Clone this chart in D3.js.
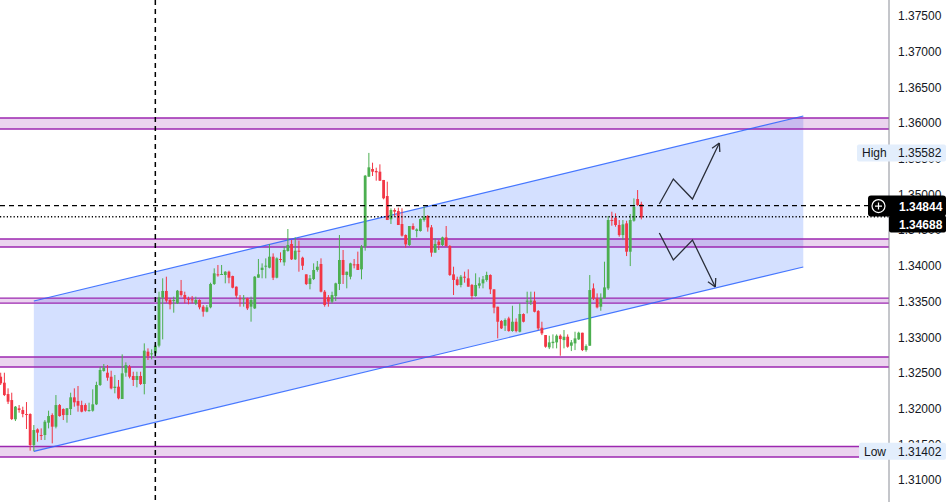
<!DOCTYPE html>
<html>
<head>
<meta charset="utf-8">
<script src="https://cdn.jsdelivr.net/npm/d3@7"></script>
<style>
    body { margin: 0; background: #fff; overflow: hidden; }
    svg { display: block; }
</style>
</head>
<body>
<div id="container"><svg></svg></div>
<script>
// candles, oldest first
let opens = [1.32447,1.32363,1.32204,1.32120,1.31850,1.32004,1.31980,1.31924,1.31924,1.31490,
    1.31709,1.31630,1.31630,1.31803,1.31910,1.31747,1.32050,1.31994,1.31910,1.31994,
    1.32158,1.32106,1.32050,1.32050,1.31971,1.31971,1.32060,1.32331,1.32527,1.32503,
    1.32447,1.32289,1.32307,1.32135,1.32503,1.32587,1.32457,1.32401,1.32457,1.32345,
    1.32798,1.32765,1.32774,1.32882,1.33554,1.33648,1.33522,1.33512,1.33475,1.33648,
    1.33592,1.33536,1.33531,1.33475,1.33522,1.33428,1.33358,1.33419,1.33746,1.33881,
    1.33876,1.33872,1.33918,1.33857,1.33708,1.33545,1.33535,1.33545,1.33428,1.33404,
    1.33834,1.33942,1.33988,1.33974,1.34128,1.33834,1.34096,1.34049,1.34208,1.34306,
    1.34091,1.34212,1.34114,1.33881,1.33745,1.33815,1.33942,1.34026,1.33638,1.33559,
    1.33498,1.33577,1.33746,1.34082,1.33872,1.33848,1.34021,1.34026,1.33951,1.34269,
    1.35249,1.35357,1.35329,1.35319,1.35203,1.34978,1.34652,1.34782,1.34768,1.34586,
    1.34432,1.34292,1.34558,1.34488,1.34488,1.34642,1.34698,1.34539,1.34185,1.34339,
    1.34292,1.34399,1.34278,1.33881,1.33811,1.33732,1.33848,1.33825,1.33732,1.33577,
    1.33722,1.33755,1.33802,1.33872,1.33671,1.33427,1.33227,1.33161,1.33264,1.33087,
    1.33217,1.33077,1.33325,1.33497,1.33497,1.33512,1.33367,1.33133,1.33031,1.32858,
    1.32918,1.32928,1.33021,1.32960,1.33007,1.32881,1.32914,1.32970,1.33063,1.32820,
    1.32881,1.33684,1.33544,1.33427,1.33544,1.33684,1.34642,1.34674,1.34572,1.34431,
    1.34595,1.34198,1.34632,1.34936,1.34866];
let highs = [1.32503,1.32503,1.32284,1.32223,1.32036,1.32050,1.32027,1.32092,1.31934,1.31770,
    1.31723,1.31723,1.31840,1.31971,1.31934,1.32190,1.32064,1.32004,1.32008,1.32223,
    1.32284,1.32317,1.32111,1.32074,1.32083,1.32270,1.32377,1.32587,1.32625,1.32610,
    1.32531,1.32471,1.32401,1.32760,1.32648,1.32611,1.32517,1.32517,1.32517,1.32914,
    1.32844,1.32830,1.32900,1.33638,1.33825,1.33848,1.33545,1.33568,1.33662,1.33802,
    1.33638,1.33568,1.33578,1.33568,1.33531,1.33451,1.33451,1.33764,1.33965,1.34012,
    1.34012,1.33925,1.33932,1.33862,1.33712,1.33591,1.33591,1.33554,1.33568,1.33857,
    1.34096,1.34035,1.34105,1.34306,1.34175,1.34119,1.34189,1.34268,1.34516,1.34362,
    1.34399,1.34353,1.34128,1.33881,1.33872,1.34035,1.34068,1.34105,1.33661,1.33591,
    1.33638,1.33764,1.34432,1.34222,1.33918,1.34044,1.34096,1.34199,1.34292,1.35273,
    1.35582,1.35445,1.35375,1.35422,1.35203,1.35179,1.34806,1.34806,1.34815,1.34806,
    1.34441,1.34558,1.34595,1.34525,1.34666,1.34829,1.34712,1.34572,1.34385,1.34362,
    1.34409,1.34558,1.34292,1.33988,1.33848,1.33872,1.33918,1.33951,1.33746,1.33895,
    1.33839,1.33858,1.33918,1.33881,1.33671,1.33428,1.33241,1.33264,1.33287,1.33441,
    1.33264,1.33474,1.33334,1.33638,1.33638,1.33638,1.33381,1.33217,1.33031,1.33021,
    1.33040,1.33040,1.33040,1.33101,1.33040,1.32961,1.33077,1.33077,1.33063,1.32900,
    1.33871,1.33754,1.33614,1.33614,1.34058,1.34698,1.34758,1.34735,1.34642,1.34642,
    1.34632,1.34726,1.34945,1.35062,1.34898];
let lows = [1.32331,1.32176,1.32064,1.31840,1.31826,1.31943,1.31878,1.31714,1.31411,1.31402,
    1.31537,1.31560,1.31560,1.31723,1.31513,1.31723,1.31887,1.31840,1.31803,1.31910,
    1.32027,1.31957,1.31948,1.31957,1.31957,1.31957,1.32050,1.32317,1.32517,1.32391,
    1.32270,1.32214,1.32130,1.32135,1.32447,1.32424,1.32317,1.32298,1.32331,1.32200,
    1.32681,1.32690,1.32718,1.32858,1.32970,1.33484,1.33391,1.33344,1.33465,1.33568,
    1.33475,1.33461,1.33475,1.33451,1.33391,1.33288,1.33349,1.33405,1.33732,1.33848,
    1.33872,1.33755,1.33755,1.33685,1.33545,1.33428,1.33428,1.33381,1.33218,1.33395,
    1.33834,1.33825,1.33825,1.33965,1.33801,1.33825,1.34049,1.34002,1.34198,1.34082,
    1.34082,1.33918,1.33942,1.33731,1.33671,1.33801,1.33918,1.33628,1.33428,1.33428,
    1.33475,1.33507,1.33661,1.33746,1.33685,1.33811,1.33965,1.33942,1.33811,1.34213,
    1.35249,1.35259,1.35193,1.35189,1.34932,1.34642,1.34586,1.34689,1.34572,1.34409,
    1.34255,1.34278,1.34502,1.34399,1.34479,1.34619,1.34479,1.34128,1.34185,1.34222,
    1.34278,1.34269,1.33858,1.33591,1.33722,1.33699,1.33764,1.33708,1.33531,1.33568,
    1.33685,1.33685,1.33778,1.33605,1.33335,1.32984,1.33115,1.33087,1.33077,1.33077,
    1.33068,1.33068,1.33208,1.33334,1.33451,1.33348,1.33100,1.33030,1.32853,1.32834,
    1.32844,1.32844,1.32741,1.32844,1.32853,1.32806,1.32820,1.32961,1.32806,1.32797,
    1.32881,1.33521,1.33404,1.33371,1.33544,1.33661,1.34562,1.34548,1.34408,1.34361,
    1.34137,1.33997,1.34618,1.34838,1.34651];
let closes = [1.32354,1.32190,1.32097,1.31854,1.32027,1.31980,1.31924,1.31915,1.31490,1.31700,
    1.31663,1.31621,1.31817,1.31896,1.31747,1.32050,1.31896,1.31910,1.32004,1.32158,
    1.32088,1.32041,1.31957,1.31971,1.31980,1.32060,1.32331,1.32541,1.32573,1.32433,
    1.32284,1.32307,1.32144,1.32494,1.32611,1.32447,1.32401,1.32457,1.32345,1.32812,
    1.32737,1.32774,1.32882,1.33559,1.33648,1.33512,1.33461,1.33522,1.33652,1.33592,
    1.33536,1.33522,1.33522,1.33522,1.33419,1.33358,1.33419,1.33746,1.33895,1.33872,
    1.33886,1.33918,1.33834,1.33694,1.33582,1.33535,1.33545,1.33404,1.33521,1.33848,
    1.33881,1.33974,1.34002,1.34128,1.33834,1.34105,1.34086,1.34222,1.34292,1.34091,
    1.34212,1.34198,1.34002,1.33745,1.33825,1.33942,1.33988,1.33638,1.33451,1.33498,
    1.33591,1.33755,1.34082,1.33872,1.33918,1.34035,1.34012,1.33942,1.34269,1.35263,
    1.35380,1.35319,1.35310,1.35193,1.34946,1.34642,1.34782,1.34759,1.34572,1.34423,
    1.34301,1.34558,1.34511,1.34511,1.34656,1.34689,1.34539,1.34185,1.34306,1.34292,
    1.34399,1.34278,1.33872,1.33802,1.33732,1.33848,1.33834,1.33708,1.33577,1.33732,
    1.33755,1.33811,1.33872,1.33671,1.33414,1.33217,1.33124,1.33241,1.33087,1.33217,
    1.33087,1.33325,1.33217,1.33512,1.33512,1.33357,1.33124,1.33054,1.32867,1.32928,
    1.32937,1.33021,1.32974,1.33007,1.32867,1.32928,1.32984,1.33063,1.32820,1.32876,
    1.33661,1.33544,1.33418,1.33544,1.33698,1.34642,1.34632,1.34572,1.34431,1.34581,
    1.34198,1.34642,1.34828,1.34852,1.34679];

// price axis
let y_ticks = [1.31, 1.315, 1.32, 1.325, 1.33, 1.335, 1.34, 1.345, 1.35, 1.355, 1.36, 1.365, 1.37, 1.375];

// support / resistance zones [low, high]
let zones = [[1.35917, 1.36071], [1.34264, 1.34376], [1.33479, 1.33549], [1.32583, 1.32723], [1.31322, 1.31469]];

// rising channel, candle index -> price
let channel_idx = [9, 218];
let channel_top = [1.33507, 1.36099];
let channel_bottom = [1.31402, 1.33984];

let marker_idx = 42;
let last_price = 1.34844;
let mark_price = 1.34688;
let high_price = 1.35582;
let low_price = 1.31402;

// projected paths
let up_path = [[178.9, 1.34866], [182.7, 1.35216], [187.9, 1.34936], [195.2, 1.35721]];
let down_path = [[178.9, 1.34460], [182.7, 1.34082], [187.9, 1.34362], [194.1, 1.33703]];

let width = 950, height = 502;
let axis_x = 889;
let fontFamily = "'Liberation Sans', Arial, sans-serif";

function draw_main() {
    let svg = d3.select('#container').select('svg')
        .attr('width', width)
        .attr('height', height);

    let x = d3.scaleLinear().domain([0, opens.length - 1]).range([0.7, 641.3]);
    let y = d3.scaleLinear().domain([1.31, 1.375]).range([480, 16]);

    // channel fill
    let poly = [[channel_idx[0], channel_top[0]], [channel_idx[1], channel_top[1]],
                [channel_idx[1], channel_bottom[1]], [channel_idx[0], channel_bottom[0]]];
    svg.append('polygon')
        .attr('points', poly.map(p => x(p[0]) + ',' + y(p[1])).join(' '))
        .attr('fill', 'rgba(41,98,255,0.2)');

    // zones
    let zg = svg.append('g');
    zones.forEach(z => {
        zg.append('rect')
            .attr('x', 0).attr('width', axis_x)
            .attr('y', y(z[1])).attr('height', y(z[0]) - y(z[1]))
            .attr('fill', 'rgba(156,39,176,0.2)');
        [z[0], z[1]].forEach(v => {
            zg.append('line')
                .attr('x1', 0).attr('x2', axis_x)
                .attr('y1', y(v)).attr('y2', y(v))
                .attr('stroke', '#9c27b0').attr('stroke-width', 1.3);
        });
    });

    // channel lines
    [channel_top, channel_bottom].forEach(c => {
        svg.append('line')
            .attr('x1', x(channel_idx[0])).attr('y1', y(c[0]))
            .attr('x2', x(channel_idx[1])).attr('y2', y(c[1]))
            .attr('stroke', '#2962ff').attr('stroke-opacity', 0.85).attr('stroke-width', 1.2);
    });

    // candles
    let candles = opens.map((o, i) => ({i: i, o: o, h: highs[i], l: lows[i], c: closes[i]}));
    let cg = svg.append('g')
        .selectAll('g')
        .data(candles)
        .enter().append('g');
    cg.append('line')
        .attr('x1', d => x(d.i)).attr('x2', d => x(d.i))
        .attr('y1', d => y(d.h)).attr('y2', d => y(d.l))
        .attr('stroke', d => d.c >= d.o ? '#4caf50' : '#f23645')
        .attr('stroke-width', 1);
    cg.append('rect')
        .attr('x', d => x(d.i) - 1.4)
        .attr('width', 2.8)
        .attr('y', d => y(Math.max(d.o, d.c)))
        .attr('height', d => Math.max(1, Math.abs(y(d.o) - y(d.c))))
        .attr('fill', d => d.c >= d.o ? '#4caf50' : '#f23645');

    // vertical marker
    svg.append('line')
        .attr('x1', x(marker_idx)).attr('x2', x(marker_idx))
        .attr('y1', 0).attr('y2', height)
        .attr('stroke', '#000').attr('stroke-width', 1.5)
        .attr('stroke-dasharray', '5,4');

    // price lines
    svg.append('line')
        .attr('x1', 0).attr('x2', 868)
        .attr('y1', y(last_price)).attr('y2', y(last_price))
        .attr('stroke', '#000').attr('stroke-width', 1.2)
        .attr('stroke-dasharray', '5,4');
    svg.append('line')
        .attr('x1', 0).attr('x2', axis_x)
        .attr('y1', y(mark_price)).attr('y2', y(mark_price))
        .attr('stroke', '#000').attr('stroke-width', 1.3)
        .attr('stroke-dasharray', '1.2,2.2');

    // arrows
    [up_path, down_path].forEach(path => {
        let pts = path.map(p => [x(p[0]), y(p[1])]);
        svg.append('path')
            .attr('d', d3.line()(pts))
            .attr('fill', 'none').attr('stroke', '#2a2e39').attr('stroke-width', 1.3);
        let a = pts[pts.length - 1], b = pts[pts.length - 2];
        let ang = Math.atan2(b[1] - a[1], b[0] - a[0]);
        [-0.5, 0.5].forEach(da => {
            svg.append('line')
                .attr('x1', a[0]).attr('y1', a[1])
                .attr('x2', a[0] + 9 * Math.cos(ang + da))
                .attr('y2', a[1] + 9 * Math.sin(ang + da))
                .attr('stroke', '#2a2e39').attr('stroke-width', 1.3);
        });
    });

    // right price axis
    let axis_y = d3.axisRight(y)
        .tickValues(y_ticks)
        .tickFormat(d3.format('.5f'))
        .tickSize(0)
        .tickPadding(9);
    let ag = svg.append('g')
        .attr('transform', `translate(${axis_x}, 0)`)
        .call(axis_y)
        .attr('font-family', fontFamily)
        .attr('font-size', 12);
    ag.select('.domain').remove();
    ag.selectAll('text').attr('fill', '#131722');
    svg.append('line')
        .attr('x1', axis_x).attr('x2', axis_x)
        .attr('y1', 0).attr('y2', height)
        .attr('stroke', '#8a8d96').attr('stroke-width', 1);

    // high / low labels
    [['High', high_price, 857], ['Low', low_price, 859]].forEach(l => {
        let cy = y(l[1]);
        svg.append('rect')
            .attr('x', l[2]).attr('y', cy - 8.5)
            .attr('width', 946 - l[2]).attr('height', 17)
            .attr('rx', 2)
            .attr('fill', '#e3eefc');
        svg.append('text')
            .attr('x', l[2] + 5).attr('y', cy + 4.2)
            .attr('font-family', fontFamily).attr('font-size', 12)
            .attr('fill', '#131722')
            .text(l[0]);
        svg.append('text')
            .attr('x', axis_x + 9).attr('y', cy + 4.2)
            .attr('font-family', fontFamily).attr('font-size', 12)
            .attr('fill', '#131722')
            .text(d3.format('.5f')(l[1]));
    });

    // last price label with plus button
    let ly = y(last_price);
    svg.append('rect')
        .attr('x', 868).attr('y', ly - 10)
        .attr('width', 78).attr('height', 21)
        .attr('rx', 3)
        .attr('fill', '#000');
    svg.append('rect')
        .attr('x', axis_x).attr('y', ly + 10)
        .attr('width', 57).attr('height', 17)
        .attr('rx', 2)
        .attr('fill', '#000');
    svg.append('circle')
        .attr('cx', 878.5).attr('cy', ly + 0.5).attr('r', 6.5)
        .attr('fill', 'none').attr('stroke', '#fff').attr('stroke-width', 1.2);
    svg.append('path')
        .attr('d', `M875,${ly + 0.5}H882M878.5,${ly - 3}V${ly + 4}`)
        .attr('stroke', '#fff').attr('stroke-width', 1.2);
    svg.append('text')
        .attr('x', axis_x + 10).attr('y', ly + 5)
        .attr('font-family', fontFamily).attr('font-size', 12).attr('font-weight', 'bold')
        .attr('fill', '#fff')
        .text(d3.format('.5f')(last_price));
    svg.append('text')
        .attr('x', axis_x + 10).attr('y', ly + 23)
        .attr('font-family', fontFamily).attr('font-size', 12).attr('font-weight', 'bold')
        .attr('fill', '#fff')
        .text(d3.format('.5f')(mark_price));
}

draw_main();
</script>
</body>
</html>
